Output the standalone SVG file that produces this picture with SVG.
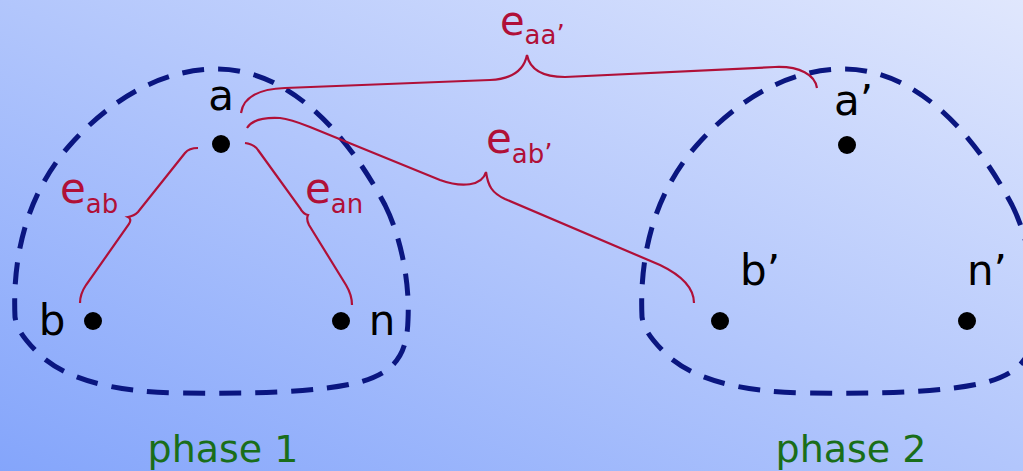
<svg xmlns="http://www.w3.org/2000/svg" width="1023" height="471" viewBox="0 0 1023 471">
<defs>
<linearGradient id="bg" x1="0" y1="1" x2="1" y2="0">
<stop offset="0" stop-color="#84a5fb"/>
<stop offset="1" stop-color="#e0e7fd"/>
</linearGradient>
<path id="blob" d="M 385,205 C 400,235 410,280 408,320 C 407,355 395,372 360,382 C 320,392 260,394 180,393 C 110,392 65,378 40,355 C 25,340 17,330 15,317 C 12,250 30,190 70,145 C 110,100 160,70 215,69 C 280,68 340,120 385,205 Z"/>
</defs>
<style>
.blob{fill:none;stroke:#0a1680;stroke-width:5;stroke-dasharray:22 14}
.dot{fill:#000}
.lbl{font-family:"DejaVu Sans",sans-serif;font-size:42px;fill:#000}
.brace{fill:none;stroke:#b01038;stroke-width:2.2}
.elbl{font-family:"DejaVu Sans",sans-serif;font-size:42px;fill:#b01038}
.sub{font-size:26px}
.phase{font-family:"DejaVu Sans",sans-serif;font-size:38px;fill:#1a6e1a;text-anchor:middle}
</style>
<rect width="1023" height="471" fill="url(#bg)"/>
<g id="phase1">
<use href="#blob" class="blob"/>
<text class="phase" x="223" y="462">phase 1</text>
</g>
<g id="phase2">
<use href="#blob" class="blob" transform="translate(627,0)"/>
<text class="phase" x="851" y="462">phase 2</text>
</g>
<g id="connectors">
<path class="brace" d="M 198,148 Q 189,148 185,153 L 138,212 Q 134,216 128,217 Q 132,219 129,224 L 86,285 Q 80,294 80,303"/>
<path class="brace" d="M 245,143 Q 254,144 258,150 L 300,208 Q 303,214 308,215 Q 306,219 309,225 L 346,285 Q 352,295 352,305"/>
<path class="brace" d="M 241,113 C 243,98 258,89 285,88 L 490,80 C 512,79 524,70 527,55 C 530,70 542,77 565,77 L 775,67 C 800,66 815,75 817,88"/>
<path class="brace" d="M 247,128 C 252,120 262,117 280,118 C 290,119 300,123 310,127 L 440,180 C 462,188 482,186 486,172 C 488,186 492,193 505,199 L 660,265 C 685,277 694,290 694,303"/>
<text class="elbl" x="60" y="203">e<tspan class="sub" dy="10">ab</tspan></text>
<text class="elbl" x="305" y="203">e<tspan class="sub" dy="10">an</tspan></text>
<text class="elbl" x="500" y="35" style="font-size:40px">e<tspan class="sub" dy="9">aa’</tspan></text>
<text class="elbl" x="486" y="153">e<tspan class="sub" dy="10">ab’</tspan></text>
</g>
<g id="node-a"><circle class="dot" cx="221" cy="144" r="9"/><text class="lbl" x="221" y="110" text-anchor="middle">a</text></g>
<g id="node-b"><circle class="dot" cx="93" cy="321" r="9"/><text class="lbl" x="52" y="335" text-anchor="middle">b</text></g>
<g id="node-n"><circle class="dot" cx="341" cy="321" r="9"/><text class="lbl" x="382" y="335" text-anchor="middle">n</text></g>
<g id="node-a2"><circle class="dot" cx="847" cy="145" r="9"/><text class="lbl" x="834" y="115">a’</text></g>
<g id="node-b2"><circle class="dot" cx="720" cy="321" r="9"/><text class="lbl" x="740" y="285">b’</text></g>
<g id="node-n2"><circle class="dot" cx="967" cy="321" r="9"/><text class="lbl" x="967" y="285">n’</text></g>
</svg>
